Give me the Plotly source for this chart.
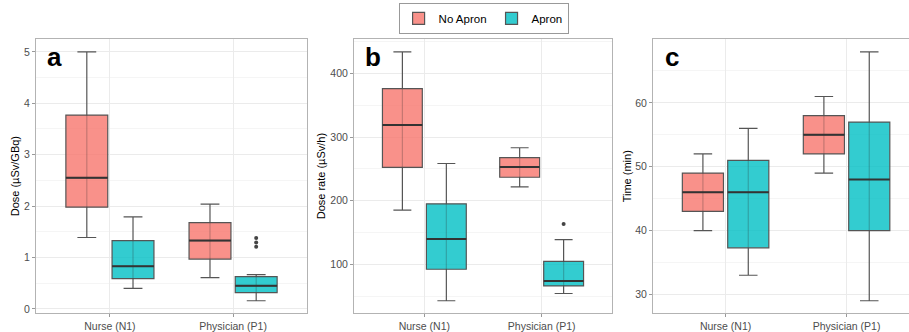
import plotly.graph_objects as go

# ---------------- data ----------------
categories = ["Nurse (N1)", "Physician (P1)"]
groups = ["No Apron", "Apron"]

# panel a: Dose (µSv/GBq)  [lower, q1, median, q3, upper] per category
dose_noapron = [[1.39, 1.98, 2.55, 3.77, 5.00], [0.61, 0.97, 1.33, 1.68, 2.04]]
dose_apron = [[0.40, 0.59, 0.83, 1.33, 1.79], [0.16, 0.32, 0.45, 0.63, 0.67]]
dose_outliers_apron = [[], [1.38, 1.295, 1.21]]
dose_outliers_noapron = [[], []]

# panel b: Dose rate (µSv/h)
rate_noapron = [[185.4, 252.3, 318.7, 375.8, 433.5], [221.9, 236.9, 252.8, 267.7, 283.2]]
rate_apron = [[43.3, 92.7, 140.1, 195.2, 258.5], [54.7, 66.5, 74.2, 105.1, 139.1]]
rate_outliers_apron = [[], [163.8]]
rate_outliers_noapron = [[], []]

# panel c: Time (min)
time_noapron = [[40, 43, 46, 49, 52], [49, 52, 55, 58, 61]]
time_apron = [[33, 37.3, 46, 51, 56], [29, 40, 48, 57, 68]]
time_outliers_apron = [[], []]
time_outliers_noapron = [[], []]

panels = [
    dict(letter="a", title="Dose (µSv/GBq)", noapron=dose_noapron, apron=dose_apron,
         out_n=dose_outliers_noapron, out_a=dose_outliers_apron,
         yrange=[-0.082, 5.242], dtick=1, tick0=0, minor=0.5),
    dict(letter="b", title="Dose rate (µSv/h)", noapron=rate_noapron, apron=rate_apron,
         out_n=rate_outliers_noapron, out_a=rate_outliers_apron,
         yrange=[23.8, 453.0], dtick=100, tick0=0, minor=50),
    dict(letter="c", title="Time (min)", noapron=time_noapron, apron=time_apron,
         out_n=time_outliers_noapron, out_a=time_outliers_apron,
         yrange=[27.05, 69.95], dtick=10, tick0=0, minor=5),
]

# ---------------- styling ----------------
W, H = 909, 332
fills = {"No Apron": "rgba(248,118,109,0.8)", "Apron": "rgba(0,191,196,0.8)"}
linec = "#555555"
FONT = "Liberation Sans, Arial, sans-serif"

px_dom = [(36, 307), (354, 612), (653, 909)]
xranges = [[0.4, 2.6], [0.4, 2.6], [0.4, 2.516]]
ytop, ybot = 40, 318
ydom = [1 - ybot / H, 1 - ytop / H]
offset = 0.1875
bw = 0.34

fig = go.Figure()

for pi, p in enumerate(panels):
    sfx = "" if pi == 0 else str(pi + 1)
    xa, ya = "x" + sfx, "y" + sfx
    for gname, data, outs, sign in [("No Apron", p["noapron"], p["out_n"], -1),
                                    ("Apron", p["apron"], p["out_a"], 1)]:
        for ci in range(len(categories)):
            lo, q1, med, q3, up = data[ci]
            pos = ci + 1 + sign * offset
            fig.add_trace(go.Box(
                x=[pos], q1=[q1], median=[med], q3=[q3], lowerfence=[lo], upperfence=[up],
                width=bw, whiskerwidth=0.45, boxpoints=False,
                fillcolor=fills[gname], line=dict(color=linec, width=1.2),
                name=gname, legendgroup=gname,
                showlegend=(pi == 0 and ci == 0), hoverinfo="skip",
                xaxis=xa, yaxis=ya))
            # whisker line seen through the translucent box
            fig.add_trace(go.Scatter(
                x=[pos, pos], y=[q1, q3], mode="lines",
                line=dict(color="rgba(40,40,40,0.25)", width=1.2),
                showlegend=False, hoverinfo="skip", xaxis=xa, yaxis=ya))
            # thick median
            fig.add_trace(go.Scatter(
                x=[pos - bw / 2, pos + bw / 2], y=[med, med], mode="lines",
                line=dict(color="#333333", width=2),
                showlegend=False, hoverinfo="skip", xaxis=xa, yaxis=ya))
            if outs[ci]:
                fig.add_trace(go.Scatter(
                    x=[pos] * len(outs[ci]), y=outs[ci], mode="markers",
                    marker=dict(color="#444444", size=4),
                    showlegend=False, hoverinfo="skip", xaxis=xa, yaxis=ya))

    x0, x1 = px_dom[pi]
    xd = [x0 / W, min(x1 / W, 1.0)]
    xkey = "xaxis" + sfx
    ykey = "yaxis" + sfx
    fig.layout[xkey] = dict(
        domain=xd, range=xranges[pi], anchor=ya,
        tickmode="array", tickvals=[1, 2], ticktext=categories,
        showgrid=True, gridcolor="#EBEBEB", gridwidth=1, zeroline=False,
        showline=True, linecolor="#B3B3B3", linewidth=1, mirror=True,
        ticks="outside", ticklen=3, tickcolor="#999999",
        tickfont=dict(family=FONT, size=10.5, color="#4D4D4D"), fixedrange=True)
    fig.layout[ykey] = dict(
        domain=ydom, range=p["yrange"], anchor=xa,
        tick0=p["tick0"], dtick=p["dtick"],
        showgrid=True, gridcolor="#EBEBEB", gridwidth=1, zeroline=False,
        minor=dict(dtick=p["minor"], tick0=0, showgrid=True, gridcolor="#F5F5F5", gridwidth=0.6),
        showline=True, linecolor="#B3B3B3", linewidth=1, mirror=(pi < 2),
        ticks="outside", ticklen=3, tickcolor="#999999",
        tickfont=dict(family=FONT, size=10.5, color="#4D4D4D"), fixedrange=True)

    # y-axis title
    title_x = {0: 15, 1: 321, 2: 627}[pi]
    fig.add_annotation(text=p["title"], xref="paper", yref="paper",
                       x=title_x / W, y=1 - ((ytop + ybot) / 2) / H,
                       xanchor="center", yanchor="middle",
                       textangle=-90, showarrow=False,
                       font=dict(family=FONT, size=11, color="#000000"))
    # panel letter
    letter_x = {0: 45, 1: 363, 2: 663}[pi]
    fig.add_annotation(text="<b>%s</b>" % p["letter"], xref="paper", yref="paper",
                       x=letter_x / W, y=1 - 58 / H, xanchor="left", yanchor="middle",
                       showarrow=False, font=dict(family=FONT, size=26, color="#000000"))

fig.update_layout(
    width=W, height=H, margin=dict(l=0, r=0, t=0, b=0),
    paper_bgcolor="white", plot_bgcolor="white",
    boxmode="overlay",
    legend=dict(orientation="h", x=0.532, xanchor="center", y=1 - 3 / H, yanchor="top",
                bordercolor="#999999", borderwidth=1, itemwidth=30,
                font=dict(family=FONT, size=11.5, color="#000000"),
                tracegroupgap=0),
    font=dict(family=FONT),
)

fig.write_html("out.html")
